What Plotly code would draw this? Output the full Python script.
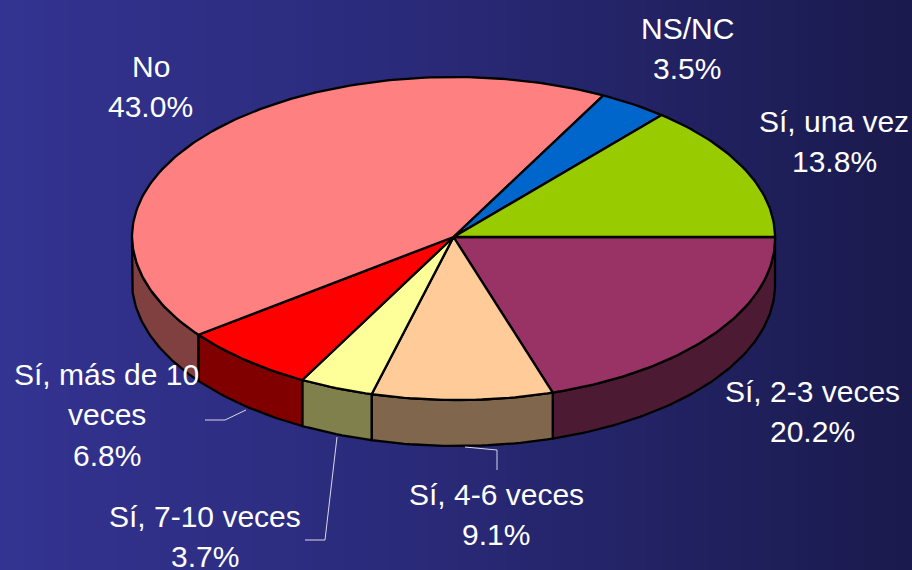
import numpy as np
import plotly.graph_objects as go

categories = ["Sí, 2-3 veces", "Sí, 4-6 veces", "Sí, 7-10 veces", "Sí, más de 10 veces", "No", "NS/NC", "Sí, una vez"]
values = [20.2, 9.1, 3.7, 6.8, 43.0, 3.5, 13.8]
top_colors = ["#993366", "#FFCC99", "#FFFF99", "#FF0000", "#FF8080", "#0066CC", "#99CC00"]
side_colors = ["#4D1A33", "#80664D", "#80804D", "#800000", "#804040", "#003366", "#4D6600"]
label_lines = [["Sí, 2-3 veces"], ["Sí, 4-6 veces"], ["Sí, 7-10 veces"], ["Sí, más de 10", "veces"], ["No"], ["NS/NC"], ["Sí, una vez"]]

# pie geometry: the near half is slightly larger, as in a perspective view
CX, CY, RX, RY_FAR, RY_NEAR, DEPTH, NEAR_SHIFT = 453.5, 237, 321.5, 160, 163, 46, 3.5
label_pos = [(812, 391), (496, 494), (205, 516), (106.5, 374), (150.5, 66), (687, 28), (834, 121)]
LINE_H = 40.5
FONT = dict(family="Liberation Sans, Arial, sans-serif", size=30, color="#FFFFFF")
OUTLINE = dict(color="#000000", width=2.3)

total = sum(values)
edges = np.concatenate([[0], np.cumsum(values)]) / total * 2 * np.pi


def arc(a, b, dy=0.0):
    t = np.linspace(a, b, max(int(abs(b - a) * 60), 2))
    s = np.sin(t)
    x = CX + RX * np.cos(t) + NEAR_SHIFT * np.clip(s, 0, None)
    y = CY + np.where(s > 0, RY_NEAR, RY_FAR) * s + dy
    return x, y


fig = go.Figure()
# horizontal background gradient
fig.add_trace(go.Heatmap(
    x=[0, 912], y=[0, 570], z=[[0, 1], [0, 1]], zsmooth="best", showscale=False, hoverinfo="skip",
    colorscale=[[0, "#333391"], [0.45, "#2A2A7A"], [1, "#1A1A4D"]], zmin=0, zmax=1,
))

# front wall of the pie (only the part that faces the viewer)
for i, v in enumerate(values):
    a, b = edges[i], edges[i + 1]
    a2, b2 = min(a, np.pi), min(b, np.pi)
    if b2 <= a2:
        continue
    x1, y1 = arc(a2, b2)
    x2, y2 = arc(b2, a2, DEPTH)
    fig.add_trace(go.Scatter(
        x=np.r_[x1, x2, x1[0]], y=np.r_[y1, y2, y1[0]], mode="lines", fill="toself",
        fillcolor=side_colors[i], line=OUTLINE, hoverinfo="skip", showlegend=False,
    ))

# top face
for i, v in enumerate(values):
    x, y = arc(edges[i], edges[i + 1])
    fig.add_trace(go.Scatter(
        x=np.r_[CX, x, CX], y=np.r_[CY, y, CY], mode="lines", fill="toself",
        fillcolor=top_colors[i], line=OUTLINE,
        name=categories[i], hoverinfo="name", showlegend=False,
    ))

# labels
annotations = []
for lines, v, (lx, ly) in zip(label_lines, values, label_pos):
    for k, txt in enumerate(lines + [f"{v:.1f}%"]):
        annotations.append(dict(x=lx, y=ly + k * LINE_H, text=txt, showarrow=False, xref="x", yref="y",
                                xanchor="center", yanchor="middle", font=FONT))

LEADER = dict(color="#D8D8E8", width=1)
shapes = [
    dict(type="path", path="M205,420 L225,420 L246,410", line=LEADER, xref="x", yref="y"),
    dict(type="path", path="M305,540 L325,540 L337,437", line=LEADER, xref="x", yref="y"),
    dict(type="path", path="M465,447 L497,450 L497,470", line=LEADER, xref="x", yref="y"),
]

fig.update_layout(
    width=912, height=570, margin=dict(l=0, r=0, t=0, b=0), autosize=False,
    paper_bgcolor="#2A2A7A", plot_bgcolor="rgba(0,0,0,0)",
    xaxis=dict(range=[0, 912], visible=False, fixedrange=True),
    yaxis=dict(range=[570, 0], visible=False, fixedrange=True),
    annotations=annotations, shapes=shapes, showlegend=False,
)
fig.write_html("out.html", config=dict(displayModeBar=False),
               post_script="document.body.style.margin='0';document.body.style.overflow='hidden';document.documentElement.style.background='#2A2A7A';")
